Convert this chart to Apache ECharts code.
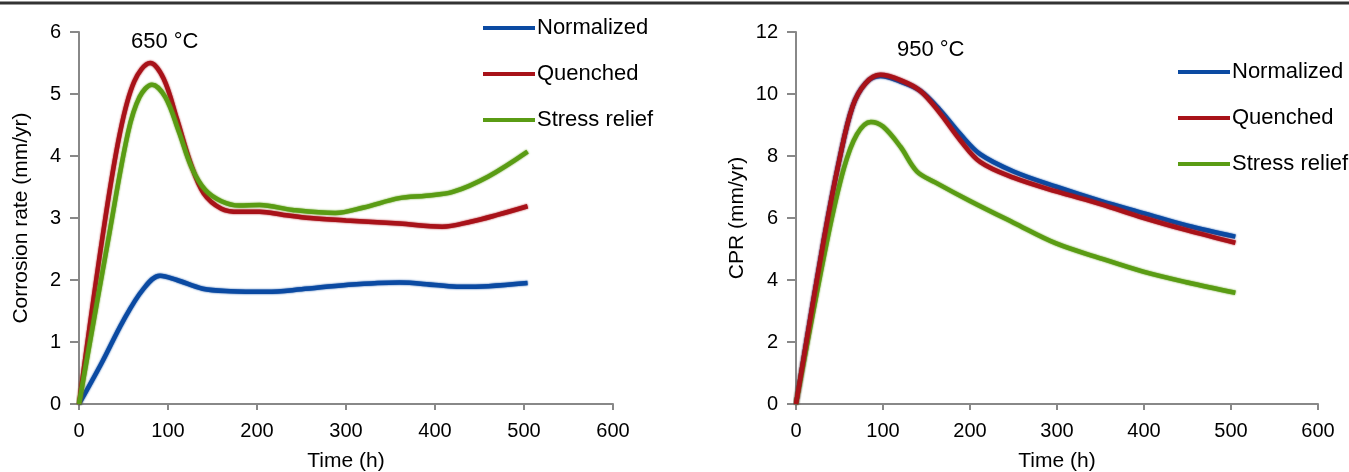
<!DOCTYPE html>
<html>
<head>
<meta charset="utf-8">
<script src="https://cdn.jsdelivr.net/npm/echarts@6/dist/echarts.min.js"></script>
<style>
  html, body { margin: 0; padding: 0; background: #fff; }
  #main { width: 1349px; height: 472px; }
</style>
</head>
<body>
<div id="main"></div>
<script>
// series names
const seriesNames = ['Normalized', 'Quenched', 'Stress relief'];
const xTicks = [0, 100, 200, 300, 400, 500, 600];

// 650 °C panel, [time (h), corrosion rate (mm/yr)]
const normalized650 = [[0, 0], [25, 0.65], [50, 1.35], [72, 1.85], [91, 2.07], [110, 2.0], [139, 1.86], [170, 1.82], [211, 1.81], [250, 1.85], [300, 1.92], [360, 1.96], [400, 1.92], [428, 1.89], [460, 1.9], [504, 1.95]];
const quenched650 = [[0, 0], [27, 2.75], [46, 4.37], [62, 5.2], [80, 5.5], [95, 5.25], [110, 4.6], [125, 3.9], [140, 3.4], [160, 3.15], [180, 3.1], [203, 3.1], [230, 3.05], [260, 3.0], [300, 2.96], [360, 2.91], [408, 2.86], [440, 2.94], [470, 3.05], [504, 3.19]];
const stress650 = [[0, 0], [34, 2.74], [55, 4.37], [68, 4.95], [82, 5.15], [97, 4.95], [112, 4.4], [127, 3.8], [142, 3.45], [160, 3.27], [180, 3.2], [203, 3.21], [240, 3.13], [288, 3.08], [320, 3.17], [360, 3.32], [390, 3.36], [420, 3.42], [460, 3.67], [504, 4.07]];

// 950 °C panel, [time (h), CPR (mm/yr)]
const normalized950 = [[0, 0], [32, 5.3], [50, 7.9], [65, 9.6], [80, 10.35], [97, 10.58], [120, 10.4], [143, 10.1], [165, 9.5], [189, 8.7], [212, 8.05], [250, 7.5], [300, 7.0], [350, 6.55], [400, 6.15], [450, 5.75], [505, 5.4]];
const quenched950 = [[0, 0], [32, 5.3], [50, 7.9], [65, 9.6], [80, 10.35], [97, 10.62], [120, 10.45], [143, 10.1], [165, 9.4], [189, 8.5], [212, 7.8], [250, 7.3], [300, 6.85], [350, 6.45], [400, 6.0], [450, 5.6], [505, 5.2]];
const stress950 = [[0, 0], [36, 5.3], [55, 7.6], [70, 8.7], [86, 9.1], [100, 8.95], [120, 8.3], [139, 7.5], [160, 7.15], [200, 6.55], [250, 5.85], [299, 5.18], [350, 4.7], [399, 4.27], [450, 3.92], [505, 3.59]];

const colors = ['#0b4aa2', '#a81219', '#5a9c14'];
const font = 'Liberation Sans, Arial, sans-serif';

const chart = echarts.init(document.getElementById('main'));

function xAxis(idx) {
  return {
    type: 'value', gridIndex: idx, min: xTicks[0], max: xTicks[xTicks.length - 1], interval: 100,
    name: 'Time (h)', nameLocation: 'middle', nameGap: 47,
    nameTextStyle: { color: '#000', fontSize: 21, fontFamily: font },
    axisLine: { lineStyle: { color: '#888', width: 2 } },
    axisTick: { lineStyle: { color: '#888', width: 2 }, length: 6 },
    axisLabel: { color: '#000', fontSize: 20, fontFamily: font, margin: 17 },
    splitLine: { show: false }
  };
}

function yAxis(idx, max, interval, name) {
  return {
    type: 'value', gridIndex: idx, min: 0, max: max, interval: interval,
    name: name, nameLocation: 'middle', nameGap: idx === 0 ? 47 : 48,
    nameTextStyle: { color: '#000', fontSize: 21, fontFamily: font },
    axisLine: { show: true, lineStyle: { color: '#888', width: 2 } },
    axisTick: { show: true, lineStyle: { color: '#888', width: 2 }, length: 9 },
    axisLabel: { color: '#000', fontSize: 20, fontFamily: font, margin: 18 },
    splitLine: { show: false }
  };
}

function line(name, data, idx, z) {
  const c = colors[seriesNames.indexOf(name)];
  return {
    name: name, type: 'line', xAxisIndex: idx, yAxisIndex: idx,
    data: data, smooth: 0.35, symbol: 'none', z: z,
    color: c,
    lineStyle: { color: c, width: 4.5, shadowColor: c, shadowBlur: 2 }
  };
}

function legend(left, top) {
  return {
    orient: 'vertical', left: left, top: top, data: seriesNames,
    itemWidth: 52, itemHeight: 4, itemGap: 24, icon: 'rect',
    textStyle: { color: '#000', fontSize: 22, fontFamily: font, lineHeight: 20, padding: [0, 0, 0, -3] }
  };
}

const option = {
  animation: false,
  backgroundColor: '#fff',
  title: [
    { text: '650 °C', left: 126, top: 26, textStyle: { color: '#000', fontSize: 22, fontWeight: 'normal', fontFamily: font } },
    { text: '950 °C', left: 892, top: 34, textStyle: { color: '#000', fontSize: 22, fontWeight: 'normal', fontFamily: font } }
  ],
  legend: [legend(478, 12), legend(1173, 56)],
  graphic: [{
    type: 'line', shape: { x1: 0, y1: 3, x2: 1349, y2: 3 },
    style: { stroke: '#333', lineWidth: 3 }
  }],
  grid: [
    { left: 79, right: 736, top: 32, bottom: 68, outerBoundsMode: 'none' },
    { left: 796, right: 31, top: 32, bottom: 68, outerBoundsMode: 'none' }
  ],
  xAxis: [xAxis(0), xAxis(1)],
  yAxis: [yAxis(0, 6, 1, 'Corrosion rate (mm/yr)'), yAxis(1, 12, 2, 'CPR (mm/yr)')],
  series: [
    line('Normalized', normalized650, 0, 3),
    line('Quenched', quenched650, 0, 3),
    line('Stress relief', stress650, 0, 4),
    line('Normalized', normalized950, 1, 3),
    line('Quenched', quenched950, 1, 4),
    line('Stress relief', stress950, 1, 3)
  ]
};

chart.setOption(option);
</script>
</body>
</html>
